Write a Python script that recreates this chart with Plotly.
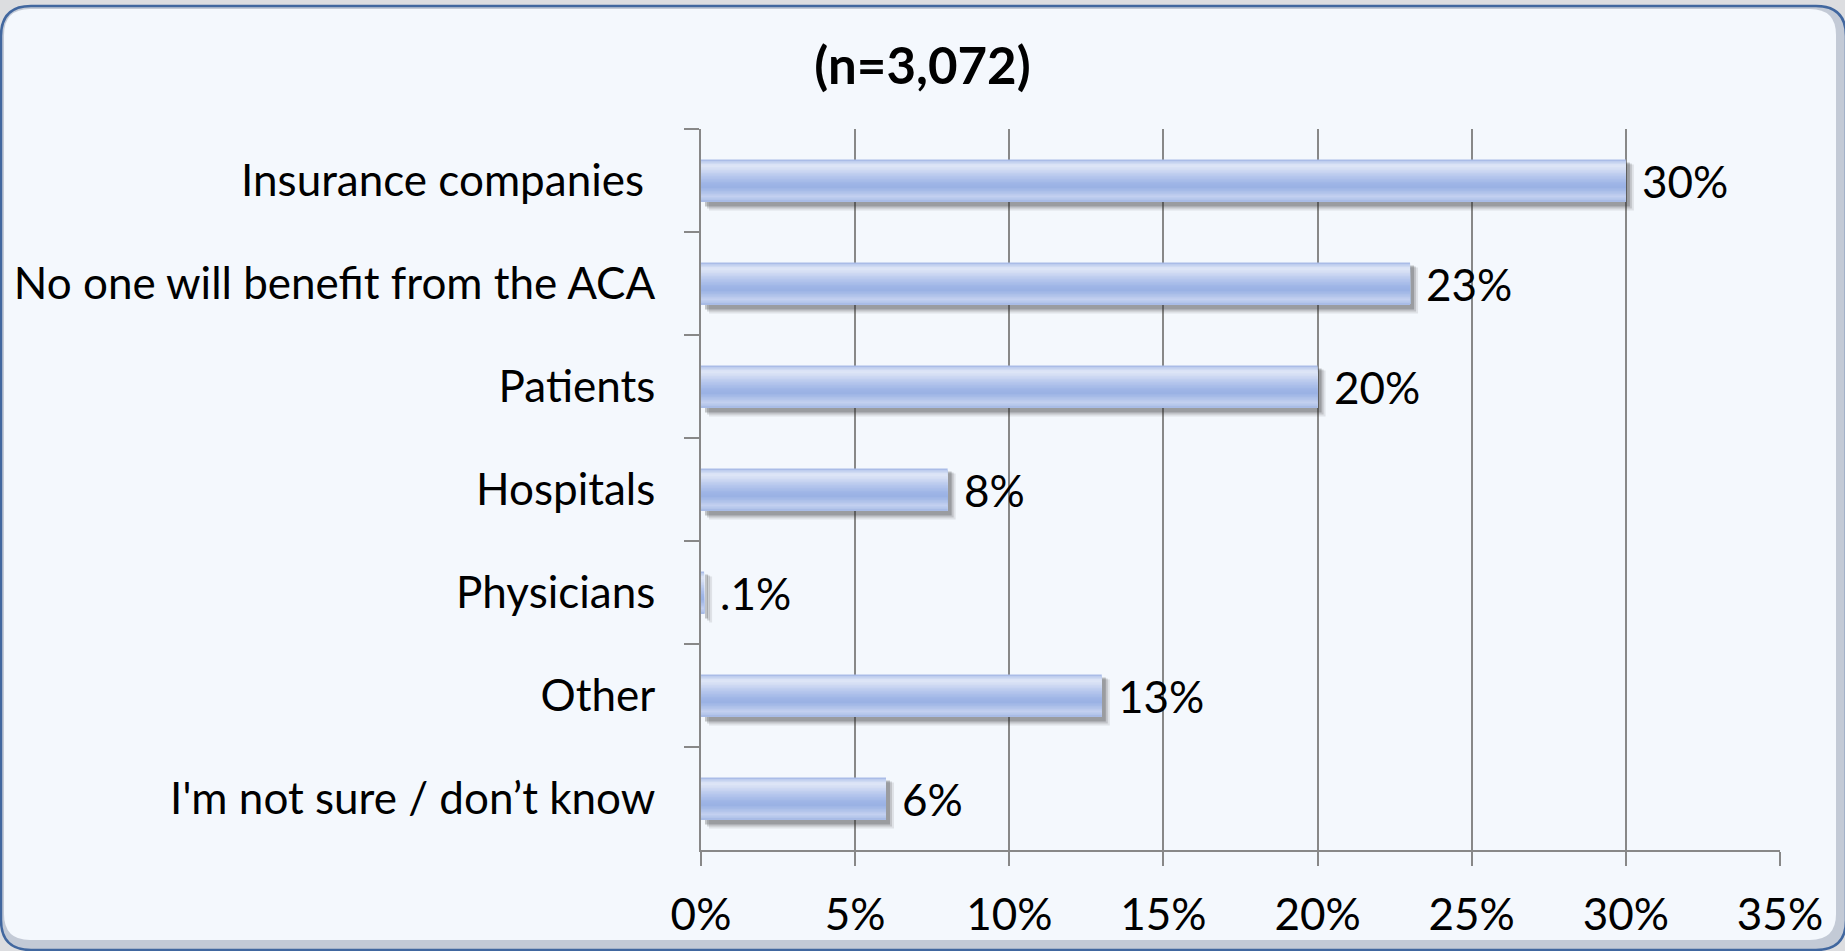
import plotly.graph_objects as go

# ---------------- data ----------------
categories = [
    "Insurance companies\u00a0",
    "No one will benefit from the ACA",
    "Patients",
    "Hospitals",
    "Physicians",
    "Other",
    "I'm not sure / don\u2019t know",
]
values = [30, 23, 20, 8, 0.1, 13, 6]
value_labels = ["30%", "23%", "20%", "8%", ".1%", "13%", "6%"]
x_tick_vals = [0, 5, 10, 15, 20, 25, 30, 35]
x_tick_labels = ["0%", "5%", "10%", "15%", "20%", "25%", "30%", "35%"]
title_text = "(n=3,072)"

# ---------------- geometry / style ----------------
W, H = 1845, 951
ML, MR, MT, MB = 701, 65, 129, 101
PW, PH = W - ML - MR, H - MT - MB
ROW_PX = PH / len(categories)
BAR_PX = 42
FONT = "Lato, Carlito, Calibri, 'Open Sans', sans-serif"
GRID = "#888888"
PX_PER_PCT = PW / 35.0

def px2u(p):
    return p / ROW_PX

fig = go.Figure()

# soft drop shadow (several translucent layers)
for shift_px, top, bot, alpha in [(8, 5, 51, 0.10), (6, 4, 49, 0.16), (4, 3, 47, 0.25)]:
    fig.add_trace(go.Bar(
        y=categories, x=values, base=shift_px / PX_PER_PCT, orientation="h",
        width=px2u(bot - top), offset=-px2u(BAR_PX) / 2 + px2u(top),
        marker=dict(color=f"rgba(40,40,40,{alpha})", line=dict(width=0)),
        hoverinfo="skip", showlegend=False,
    ))

# vertical gradient of the bar, built from colour stops (style only)
stops = [
    (0, "#9fb4e4"), (3, "#c9d5f1"), (6, "#dfe7f7"), (10, "#d2dcf3"),
    (16, "#b9c9ee"), (24, "#9eb5e6"), (28, "#9ab2e4"), (33, "#b0c2ea"),
    (37, "#c4d1f0"), (40, "#b3c4ea"), (42, "#a3b7e4"),
]

def hex2rgb(h):
    h = h.lstrip("#")
    return tuple(int(h[i:i + 2], 16) for i in (0, 2, 4))

def color_at(p):
    for (p0, c0), (p1, c1) in zip(stops[:-1], stops[1:]):
        if p0 <= p <= p1:
            t = (p - p0) / (p1 - p0) if p1 > p0 else 0
            a, b = hex2rgb(c0), hex2rgb(c1)
            return "rgb(%d,%d,%d)" % tuple(round(a[i] + (b[i] - a[i]) * t) for i in range(3))
    return stops[-1][1]

STEP = 1.5
p = 0.0
while p < BAR_PX - 1e-9:
    top = p
    fig.add_trace(go.Bar(
        y=categories, x=values, orientation="h",
        width=px2u(BAR_PX - top), offset=-px2u(BAR_PX) / 2 + px2u(top),
        marker=dict(color=color_at(top + STEP / 2), line=dict(width=0)),
        hoverinfo="skip", showlegend=False,
    ))
    p += STEP

# value labels
for c, v, lab in zip(categories, values, value_labels):
    fig.add_annotation(x=v, y=c, text=lab, showarrow=False, xanchor="left",
                       yanchor="middle", xshift=14,
                       font=dict(family=FONT, size=44, color="#000000"))

# ---------------- frame ----------------
def xp(px):
    return (px - ML) / PW

def yp(py):
    return (H - MB - py) / PH

def rounded(x0, y0, x1, y1, r):
    pts = [
        ("M", [(x0 + r, y0)]), ("L", [(x1 - r, y0)]), ("Q", [(x1, y0), (x1, y0 + r)]),
        ("L", [(x1, y1 - r)]), ("Q", [(x1, y1), (x1 - r, y1)]), ("L", [(x0 + r, y1)]),
        ("Q", [(x0, y1), (x0, y1 - r)]), ("L", [(x0, y0 + r)]), ("Q", [(x0, y0), (x0 + r, y0)]),
    ]
    s = ""
    for cmd, ps in pts:
        s += cmd + " " + " ".join(f"{xp(a):.6f},{yp(b):.6f}" for a, b in ps) + " "
    return s + "Z"

fig.add_shape(type="path", xref="paper", yref="paper", layer="below",
              path=rounded(1, 6, 1846, 950, 30),
              fillcolor="#c3cad6", line=dict(color="#41679f", width=2.5))
fig.add_shape(type="path", xref="paper", yref="paper", layer="below",
              path=rounded(4, 9, 1836, 940, 26),
              fillcolor="#f4f8fd", line=dict(width=0))

fig.update_layout(
    width=W, height=H,
    margin=dict(l=ML, r=MR, t=MT, b=MB, pad=0),
    paper_bgcolor="#dcdde0",
    plot_bgcolor="rgba(0,0,0,0)",
    barmode="overlay",
    showlegend=False,
    title=dict(text=f"<b>{title_text}</b>", x=0.5, xref="container", xanchor="center",
               y=1 - 66 / H, yref="container", yanchor="middle",
               font=dict(family=FONT, size=51, color="#000000", weight=900)),
    font=dict(family=FONT, color="#000000"),
)
fig.update_xaxes(
    range=[0, 35], tickvals=x_tick_vals, ticktext=x_tick_labels,
    showgrid=True, gridcolor=GRID, gridwidth=1.6,
    showline=True, linecolor=GRID, linewidth=1.8,
    ticks="outside", ticklen=14, tickcolor=GRID, tickwidth=1.6,
    zeroline=False, tickfont=dict(family=FONT, size=44, color="#000000"),
    ticklabelstandoff=11, fixedrange=True,
)
fig.update_yaxes(
    categoryorder="array", categoryarray=categories,
    range=[len(categories) - 0.5, -0.5],
    showgrid=False, zeroline=False,
    showline=True, linecolor=GRID, linewidth=1.8,
    ticks="outside", tickson="boundaries", ticklen=15, tickcolor=GRID, tickwidth=1.6,
    tickfont=dict(family=FONT, size=44, color="#000000"),
    ticklabelstandoff=35, fixedrange=True,
)

fig.write_html("out.html", config={"displayModeBar": False},
               post_script="document.body.style.margin='0';document.body.style.overflow='hidden';")
